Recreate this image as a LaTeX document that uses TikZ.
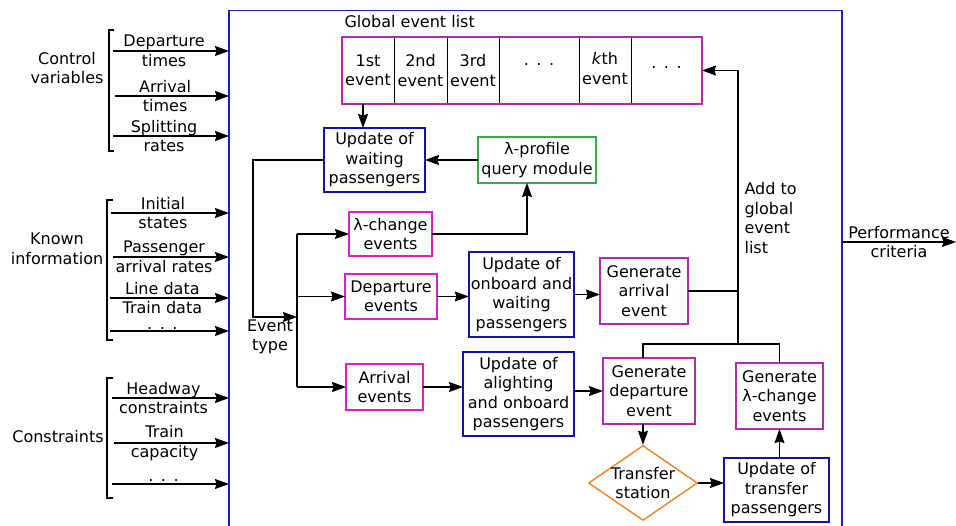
\documentclass[tikz,border=0pt]{standalone}
\usepackage{fontspec}
\setmainfont{DejaVu Sans}
\usetikzlibrary{arrows.meta,positioning,shapes.geometric}

\definecolor{simblue}{RGB}{30,30,200}
\definecolor{updblue}{RGB}{20,20,170}
\definecolor{evmag}{RGB}{220,30,200}
\definecolor{genmag}{RGB}{180,40,180}
\definecolor{qgreen}{RGB}{60,170,70}
\definecolor{trorange}{RGB}{240,130,40}
\newcommand\sdots{.\hspace{7.5pt}.\hspace{7.5pt}.}

\begin{document}
\begin{tikzpicture}[x=1pt,y=-1pt,
    line width=1.1pt, >={Stealth[length=14pt,width=10pt,inset=1.5pt]},
    font=\fontsize{16}{19.5}\selectfont,
    every node/.style={align=center},
    blk/.style={draw, line width=1.4pt, inner sep=2pt, outer sep=0pt},
    upd/.style={blk, draw=updblue},
    evt/.style={blk, draw=evmag},
    gen/.style={blk, draw=genmag},
    cell/.style={draw, line width=1pt, outer sep=0pt, inner sep=1pt, minimum height=67pt},
    lab/.style={pos=0.44}]
\useasboundingbox (0,0) rectangle (956,526);

% Simulator frame
\node[  draw=simblue, line width=1.5pt, inner sep=0pt, outer sep=0pt,
        minimum width=613pt, minimum height=519.5pt
    ] (sim) at (535.5,270.25) {};

% Inputs
\node (ctrl) at (67,68) {Control\\variables};
\node (known) at (57,249) {Known\\information};
\node (cons) at (58,437) {Constraints};
\draw (114,30) -| (109,151) -- (114,151);
\draw (113,200) -| (107,340) -- (113,340);
\draw (113,378) -| (107,498) -- (113,498);

\coordinate (in1) at (113,51);
\coordinate (in2) at (115,96);
\coordinate (in3) at (113,136);
\coordinate (in4) at (111,213);
\coordinate (in5) at (113,257);
\coordinate (in6) at (110,298);
\coordinate (in7) at (110,331);
\coordinate (in8) at (112,398);
\coordinate (in9) at (114,443);
\coordinate (in10) at (112,484);
\draw[->] (in1) -- (in1 -| sim.west) node[lab] (in1lbl) {Departure\\times};
\draw[->] (in2) -- (in2 -| sim.west) node[lab] (in2lbl) {Arrival\\times};
\draw[->] (in3) -- (in3 -| sim.west) node[lab] (in3lbl) {Splitting\\rates};
\draw[->] (in4) -- (in4 -| sim.west) node[lab] (in4lbl) {Initial\\states};
\draw[->] (in5) -- (in5 -| sim.west) node[lab] (in5lbl) {Passenger\\arrival rates};
\draw[->] (in6) -- (in6 -| sim.west) node[lab] (in6lbl) {Line data\\Train data};
\draw[->] (in7) -- (in7 -| sim.west) node[lab, above=-2pt] (in7lbl) {\sdots};
\draw[->] (in8) -- (in8 -| sim.west) node[lab] (in8lbl) {Headway\\constraints};
\draw[->] (in9) -- (in9 -| sim.west) node[lab] (in9lbl) {Train\\capacity};
\draw[->] (in10) -- (in10 -| sim.west) node[lab, above=-1pt] (in10lbl) {\sdots};

% Global event list
\node[anchor=west, inner sep=0pt] (listlbl) at (344,22) {Global event list};
\node[cell, minimum width=52pt] (c1) at (368,70.5) {1st\\event};
\node[cell, minimum width=53pt, right=0pt of c1] (c2) {2nd\\event};
\node[cell, minimum width=52pt, right=0pt of c2] (c3) {3rd\\event};
\node[cell, minimum width=80pt, text depth=11pt, right=0pt of c3] (c4) {\sdots};
\node[cell, minimum width=52pt, text depth=4pt, right=0pt of c4] (c5) {\textit{k}th\\event};
\node[cell, minimum width=71pt, text depth=6pt, right=0pt of c5] (c6) {\sdots};
\draw[genmag, line width=1.4pt] (c1.north west) rectangle (c6.south east);

% Blocks
\node[  upd,
        minimum width=101pt, minimum height=64pt
    ] (wait) at (374.5,160) {Update of\\waiting\\passengers};
\node[  blk, draw=qgreen,
        minimum width=118pt, minimum height=46pt
    ] (lprof) at (537,160) {λ-profile\\query module};
\node[  evt,
        minimum width=83pt, minimum height=44pt
    ] (lchg) at (390.5,234) {λ-change\\events};
\node[  evt,
        minimum width=92pt, minimum height=45pt
    ] (dep) at (391,296.5) {Departure\\events};
\node[  evt,
        minimum width=77pt, minimum height=46pt
    ] (arr) at (384.5,387) {Arrival\\events};
\node[  upd,
        minimum width=105pt, minimum height=85pt
    ] (updob) at (521.5,294.5) {Update of\\onboard and\\waiting\\passengers};
\node[  upd,
        minimum width=111pt, minimum height=84pt
    ] (updal) at (518.5,394) {Update of\\alighting\\and onboard\\passengers};
\node[  gen,
        minimum width=88pt, minimum height=66pt
    ] (genarr) at (644,291) {Generate\\arrival\\event};
\node[  gen,
        minimum width=92pt, minimum height=66pt
    ] (gendep) at (649,391) {Generate\\departure\\event};
\node[  gen,
        minimum width=87pt, minimum height=66pt
    ] (genlc) at (779.5,396) {Generate\\λ-change\\events};
\node[  diamond, draw=trorange, line width=1.4pt, aspect=1.45,
        inner sep=-3pt, minimum width=109pt, minimum height=75pt
    ] (tr) at (643,483) {Transfer\\station};
\node[  upd,
        minimum width=105pt, minimum height=64pt
    ] (updtr) at (776.5,490) {Update of\\transfer\\passengers};

\coordinate (etype) at (297,317);
\coordinate (join) at (738,344);
\coordinate (out) at (956,242);
\node (etypelbl) at (270,337) {Event\\type};
\node[anchor=north west, inner sep=0pt, align=left] (addlbl) at (744,182) {Add to\\global\\event\\list};

% Arcs
\draw[->] ([xshift=-5pt]c1.south) -- ([xshift=-5pt]c1.south |- wait.north);
\draw[->] (lprof.west) -- (wait.east);
\draw[->] (lchg.east) -| ([xshift=-10pt]lprof.south);
\draw[->] (wait.west) -| ([xshift=-44pt]etype) -- (etype);
\draw (etype |- lchg) -- (etype |- arr);
\draw[->] (etype |- lchg) -- (lchg);
\draw[->] (etype |- dep) -- (dep);
\draw[->] (etype |- arr) -- (arr);
\draw[->] (dep.east) -- (dep.east -| updob.west);
\draw[->] (updob.east) -- (updob.east -| genarr.west);
\draw[->] (arr.east) -- (arr.east -| updal.west);
\draw[->] (gendep.west -| updal.east) -- (gendep.west);
\draw (genarr.east) -- (genarr.east -| join);
\draw[->] (join) |- (c6.east);
\draw (tr.north |- gendep.north) |- (join) -| (genlc.north);
\draw[->] (tr.north |- gendep.south) -- (tr.north);
\draw[->] (tr.east) -- (tr.east -| updtr.west);
\draw[->] (genlc.south |- updtr.north) -- (genlc.south);
\draw[->] (out -| sim.east) -- (out) node[midway] (outlbl) {Performance\\criteria};
\end{tikzpicture}
\end{document}
